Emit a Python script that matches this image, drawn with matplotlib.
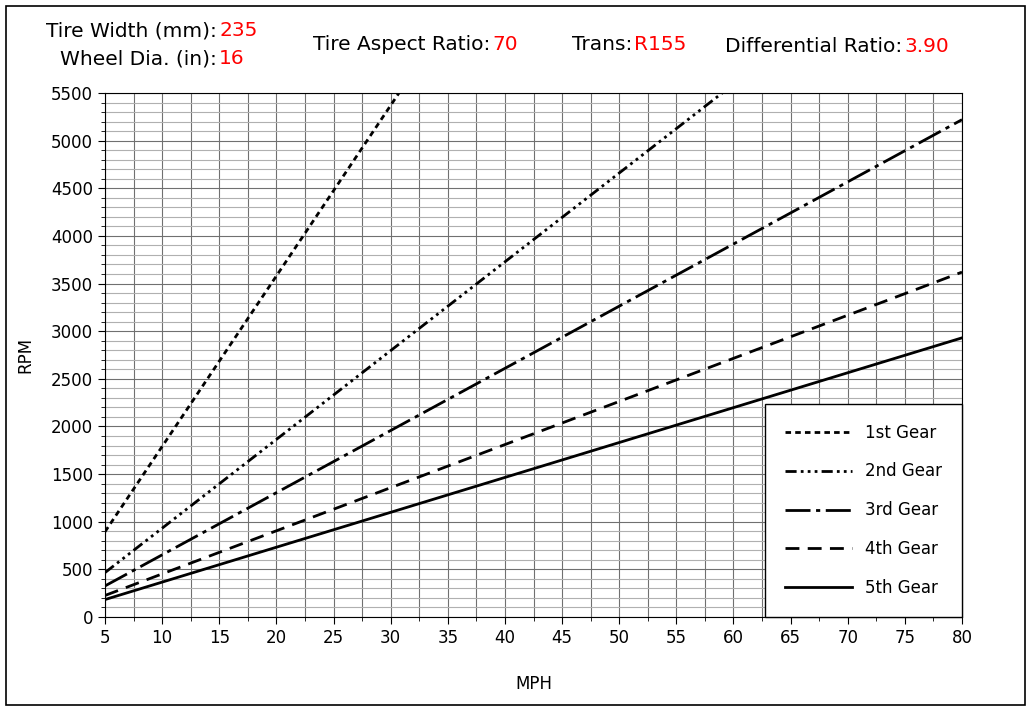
import numpy as np
import matplotlib.pyplot as plt
from matplotlib.patches import Rectangle

mph = [5, 80]
gear_labels = ['1st Gear', '2nd Gear', '3rd Gear', '4th Gear', '5th Gear']
rpm_1st = [895, 14320]
rpm_2nd = [466, 7456]
rpm_3rd = [326, 5220]
rpm_4th = [226, 3620]
rpm_5th = [183, 2930]
header_labels = ['Tire Width (mm):', 'Wheel Dia. (in):', 'Tire Aspect Ratio:', 'Trans:', 'Differential Ratio:']
header_values = ['235', '16', '70', 'R155', '3.90']

W, H = 1031, 711
fig = plt.figure(figsize=(W / 100, H / 100), dpi=100)
ax = fig.add_axes([105 / W, 1 - 617 / H, (962 - 105) / W, (617 - 93) / H])

styles = [(0, (2, 1.5)), (0, (4, 1.5, 1, 1.5, 1, 1.5, 1, 1.5)), (0, (9, 2, 1.5, 2)), (0, (5, 3)), '-']
series = [rpm_1st, rpm_2nd, rpm_3rd, rpm_4th, rpm_5th]
for y, lab, ls in zip(series, gear_labels, styles):
    ax.plot(mph, y, color='black', lw=2, linestyle=ls, label=lab)

ax.set_xlim(5, 80)
ax.set_ylim(0, 5500)
ax.set_xticks(np.arange(5, 81, 5))
ax.set_yticks(np.arange(0, 5501, 500))
ax.set_xticks(np.arange(5, 81, 2.5), minor=True)
ax.set_yticks(np.arange(0, 5501, 100), minor=True)
ax.grid(True, which='both', color='#707070', lw=0.8)
ax.grid(True, which='minor', axis='y', color='#b0b0b0', lw=0.8)
ax.set_axisbelow(True)
ax.tick_params(labelsize=12, which='major', length=5)
ax.tick_params(which='minor', length=3)
ax.set_xlabel('MPH', fontsize=12, labelpad=20)
ax.set_ylabel('RPM', fontsize=12, labelpad=12)

leg = ax.legend(loc='lower right', fontsize=12, frameon=True, fancybox=False,
                edgecolor='black', handlelength=4, labelspacing=1.25,
                borderpad=1.2, borderaxespad=0, framealpha=1)
leg.get_frame().set_linewidth(1)

fig.patches.append(Rectangle((6 / W, 6 / H), 1 - 12 / W, 1 - 12 / H, transform=fig.transFigure,
                             fill=False, edgecolor='black', lw=1.2))

def header(x, y, label, value):
    fig.text(x / W, 1 - y / H, label, fontsize=14.5, ha='right', va='center')
    fig.text(x / W + 0.002, 1 - y / H, value, fontsize=14.5, color='red', ha='left', va='center')

header(217, 31, header_labels[0], header_values[0])
header(217, 59, header_labels[1], header_values[1])
header(490, 44, header_labels[2], header_values[2])
header(632, 44, header_labels[3], header_values[3])
header(902, 46, header_labels[4], header_values[4])

fig.savefig('out.png', dpi=100)
